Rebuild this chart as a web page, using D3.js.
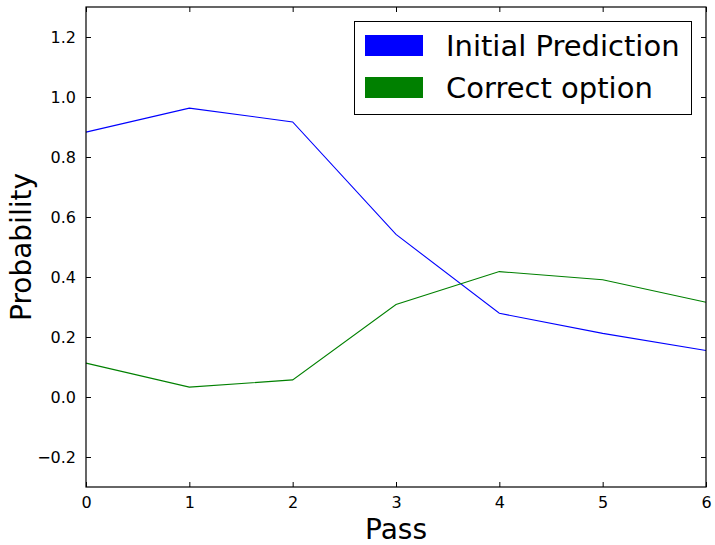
<!DOCTYPE html>
<html><head><meta charset="utf-8">
<script src="https://cdn.jsdelivr.net/npm/d3@7"></script>
<style>body{margin:0;background:#fff}svg{display:block}</style>
</head><body>
<svg id="c" width="715" height="545"></svg>
<script>
const passes = [0, 1, 2, 3, 4, 5, 6];
const initialPrediction = [0.883, 0.963, 0.917, 0.542, 0.279, 0.212, 0.155];
const correctOption = [0.113, 0.033, 0.057, 0.308, 0.418, 0.391, 0.316];
const xTicks = [0, 1, 2, 3, 4, 5, 6];
const yTicks = [-0.2, 0.0, 0.2, 0.4, 0.6, 0.8, 1.0, 1.2];
const seriesNames = ["Initial Prediction", "Correct option"];
const seriesColors = ["#0000ff", "#008000"];

const svg = d3.select("#c");
const font = "DejaVu Sans";
const L = 86, R = 706, T = 7, B = 487;
const x = d3.scaleLinear().domain([0, 6]).range([L, R]);
const y = d3.scaleLinear().domain([-0.3, 1.3]).range([B, T]);

const fmt = v => (v < 0 ? "\u2212" : "") + Math.abs(v).toFixed(1);

// lines
const line = d3.line().x((d, i) => x(passes[i])).y(d => y(d));
[initialPrediction, correctOption].forEach((s, k) => {
  svg.append("path").datum(s).attr("d", line).attr("fill", "none")
    .attr("stroke", seriesColors[k]).attr("stroke-width", 1.1);
});

// axes (ticks inside)
const ax = svg.append("g").attr("font-family", font);
const axBottom = d3.axisBottom(x).tickValues(xTicks).tickSize(-5).tickPadding(10).tickFormat(d3.format("d"));
const axTop = d3.axisTop(x).tickValues(xTicks).tickSize(-5).tickFormat("");
const axLeft = d3.axisLeft(y).tickValues(yTicks).tickSize(-5).tickPadding(10).tickFormat(fmt);
const axRight = d3.axisRight(y).tickValues(yTicks).tickSize(-5).tickFormat("");
[[axBottom, `translate(0,${B})`], [axTop, `translate(0,${T})`], [axLeft, `translate(${L},0)`], [axRight, `translate(${R},0)`]].forEach(([a, t]) => {
  const g = ax.append("g").attr("transform", t).call(a);
  g.select(".domain").remove();
  g.selectAll("text").attr("font-size", 16).attr("font-family", font).attr("fill", "#000");
  g.selectAll("line").attr("stroke", "#000");
});
svg.append("rect").attr("x", L).attr("y", T).attr("width", R - L).attr("height", B - T)
  .attr("fill", "none").attr("stroke", "#000").attr("stroke-width", 1.2);

// axis labels
svg.append("text").attr("x", (L + R) / 2).attr("y", 539).attr("text-anchor", "middle")
  .attr("font-family", font).attr("font-size", 28).text("Pass");
svg.append("text").attr("transform", `translate(31,${(T + B) / 2}) rotate(-90)`).attr("text-anchor", "middle")
  .attr("font-family", font).attr("font-size", 28).text("Probability");

// legend
const lg = svg.append("g");
lg.append("rect").attr("x", 354.5).attr("y", 21.5).attr("width", 337).attr("height", 93)
  .attr("fill", "#fff").attr("stroke", "#000").attr("stroke-width", 1);
seriesNames.forEach((n, i) => {
  lg.append("rect").attr("x", 365).attr("y", 35 + i * 42).attr("width", 58).attr("height", 21)
    .attr("fill", seriesColors[i]);
  lg.append("text").attr("x", 446).attr("y", 56 + i * 42).attr("font-family", font)
    .attr("font-size", 29).text(n);
});
</script>
</body></html>
